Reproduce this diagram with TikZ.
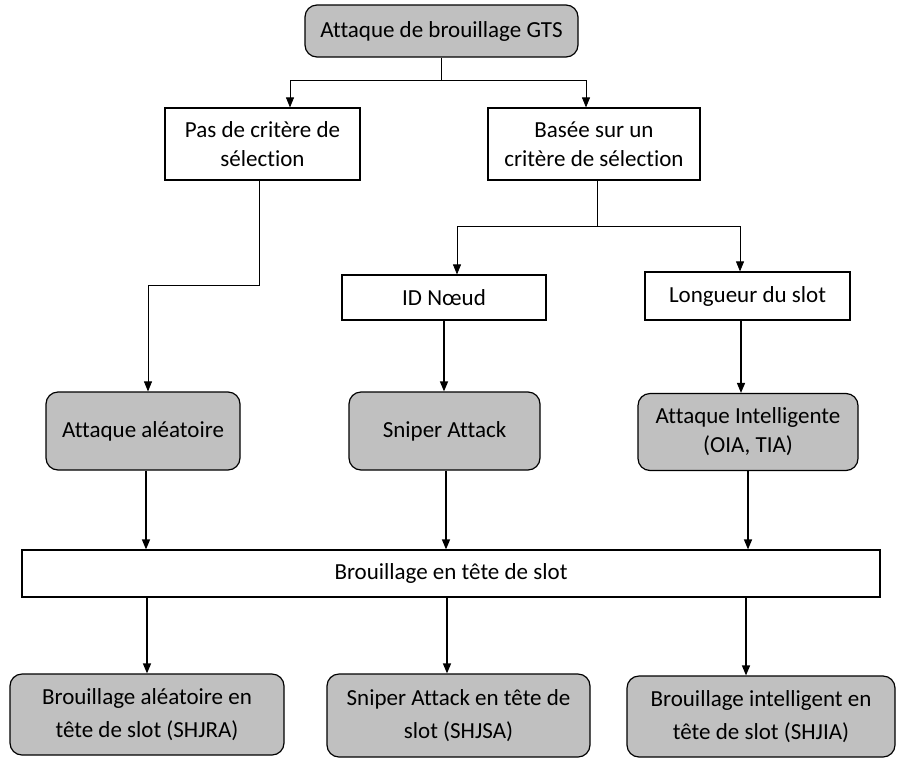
\documentclass[tikz,border=0pt]{standalone}
\usepackage{fontspec}
\setmainfont{Carlito}[Ligatures=NoCommon]
\usetikzlibrary{arrows.meta}
\definecolor{boxgray}{RGB}{192,192,192}
\begin{document}
\begin{tikzpicture}[x=1pt,y=-1pt,
  every node/.style={font=\fontsize{23}{29}\selectfont, align=center, inner sep=0pt},
  plainbox/.style={draw, line width=1.2pt, fill=white},
  graybox/.style={draw, line width=1.2pt, fill=boxgray, rounded corners=12pt},
  thin link/.style={line width=0.8pt},
  thick link/.style={line width=1.4pt},
  tip/.style={-{Triangle[width=8pt,length=10pt]}}
]
\useasboundingbox (0,0) rectangle (904,761);

% top level
\node[graybox, minimum width=273pt, minimum height=52pt] (gts) at (441.5,31) {Attaque de brouillage GTS};

% selection criterion
\node[plainbox, minimum width=195pt, minimum height=72pt] (pas) at (262.5,144) {Pas de critère de\\sélection};
\node[plainbox, minimum width=212pt, minimum height=72pt] (basee) at (594,144) {Basée sur un\\critère de sélection};

% criterion kind
\node[plainbox, minimum width=204pt, minimum height=45pt] (idn) at (444,297.5) {ID Nœud};
\node[plainbox, minimum width=205pt, minimum height=48pt] (long) at (747.5,296) {Longueur du slot};

% attacks
\node[graybox, minimum width=194pt, minimum height=78pt] (alea) at (143,431) {Attaque aléatoire};
\node[graybox, minimum width=191pt, minimum height=78pt] (sniper) at (444.5,431) {Sniper Attack};
\node[graybox, minimum width=220pt, minimum height=77pt] (intel) at (748,432) {Attaque Intelligente\\(OIA, TIA)};

% slot header jamming
\node[plainbox, minimum width=858pt, minimum height=47pt] (bar) at (451,573.5) {Brouillage en tête de slot};

% results
\node[graybox, minimum width=274pt, minimum height=81pt, font=\fontsize{23}{33}\selectfont] (shjra) at (147,714.5) {Brouillage aléatoire en\\tête de slot (SHJRA)};
\node[graybox, minimum width=263pt, minimum height=83pt, font=\fontsize{23}{33}\selectfont] (shjsa) at (458.5,715.5) {Sniper Attack en tête de\\slot (SHJSA)};
\node[graybox, minimum width=268pt, minimum height=81pt, font=\fontsize{23}{33}\selectfont] (shjia) at (761,716.5) {Brouillage intelligent en\\tête de slot (SHJIA)};

% connectors: top split
\coordinate (j1) at (441.5,80);
\draw[thin link] (gts.south) -- (j1);
\draw[thin link, tip] (j1) -| ([xshift=27.5pt]pas.north);
\draw[thin link, tip] (j1) -| ([xshift=-8pt]basee.north);

% connectors: criterion split
\coordinate (j2) at (597,226);
\draw[thin link] ([xshift=3pt]basee.south) -- (j2);
\draw[thin link, tip] (j2) -| ([xshift=13pt]idn.north);
\draw[thin link, tip] (j2) -| ([xshift=-7.5pt]long.north);

% no criterion -> random attack
\coordinate (j3) at (259,285);
\draw[thin link, tip] ([xshift=-3.5pt]pas.south) -- (j3) -| ([xshift=5pt]alea.north);

% criterion -> attack
\coordinate (l1) at ([xshift=-6.5pt]long.south);
\draw[thick link, tip] (idn.south) -- (sniper.north -| idn.south);
\draw[thick link, tip] (l1) -- (intel.north -| l1);

% attack -> slot header jamming
\coordinate (a1) at ([xshift=3pt]alea.south);
\coordinate (s1) at ([xshift=1.5pt]sniper.south);
\draw[thick link, tip] (a1) -- (bar.north -| a1);
\draw[thick link, tip] (s1) -- (bar.north -| s1);
\draw[thick link, tip] (intel.south) -- (bar.north -| intel.south);

% slot header jamming -> results
\coordinate (r2) at ([xshift=-11.5pt]shjsa.north);
\coordinate (r3) at ([xshift=-15pt]shjia.north);
\draw[thick link, tip] (bar.south -| shjra.north) -- (shjra.north);
\draw[thick link, tip] (bar.south -| r2) -- (r2);
\draw[thick link, tip] (bar.south -| r3) -- (r3);
\end{tikzpicture}
\end{document}
